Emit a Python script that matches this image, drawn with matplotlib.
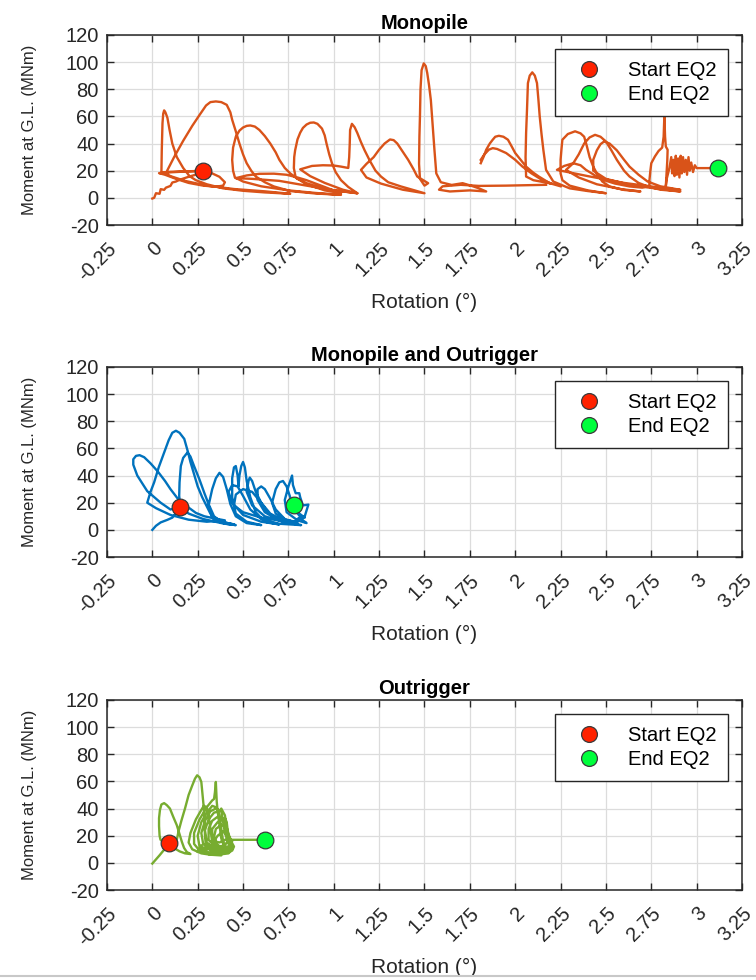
import matplotlib
matplotlib.use('Agg')
import matplotlib.pyplot as plt
from matplotlib.lines import Line2D
import numpy as np

GAP = (np.nan, np.nan)

# rotation (deg), moment at ground level (MNm)
mono_path = [
    (0.00, -0.5), (0.01, 0), (0.02, 3.4), (0.03, 3.2), (0.04, 3), (0.046, 6.4), (0.055, 6.2), (0.065, 5.9),
    (0.075, 7.5), (0.085, 8), (0.10, 8.8), (0.11, 11.3), (0.13, 12), (0.15, 13.3), (0.20, 15.5),
    (0.25, 17.5), (0.30, 19.5), (0.33, 18), (0.37, 15.5), (0.40, 11.5), (0.39, 9), (0.35, 8.2),
    (0.28, 9), (0.20, 11), (0.13, 14), (0.07, 17), (0.037, 18.2), (0.10, 18.8), (0.20, 19.5),
    (0.27, 19.8), (0.20, 19.6), (0.10, 19.2), (0.05, 18.5),
    (0.052, 35), (0.056, 55), (0.06, 62), (0.065, 64.4), (0.072, 63), (0.083, 59), (0.095, 50),
    (0.11, 40), (0.135, 30), (0.17, 22), (0.205, 16), (0.24, 13), (0.30, 10), (0.39, 7), (0.50, 5.2),
    (0.62, 4), (0.76, 3),
    (0.62, 4.8), (0.45, 6.5), (0.30, 9), (0.18, 12.5), (0.10, 16), (0.074, 18),
    (0.12, 30), (0.17, 42), (0.22, 53), (0.26, 61), (0.296, 68), (0.32, 70.5), (0.35, 71), (0.38, 70.5),
    (0.41, 68.5), (0.43, 63), (0.44, 57.5), (0.46, 49), (0.48, 40), (0.50, 32), (0.52, 25.5), (0.545, 20),
    (0.57, 15.7), (0.62, 11.5), (0.67, 8.4), (0.76, 5), (0.90, 3.2), (1.04, 2.2),
    (0.90, 3.6), (0.75, 5.5), (0.60, 8.5), (0.50, 12), (0.455, 15),
    (0.445, 20), (0.44, 28), (0.445, 37), (0.46, 45), (0.48, 49.5), (0.50, 51.8), (0.52, 53), (0.54, 53.3),
    (0.565, 52.5), (0.59, 50), (0.62, 45.5), (0.65, 40), (0.68, 33.5), (0.70, 28), (0.73, 22), (0.76, 18),
    (0.80, 14), (0.85, 10.8), (0.95, 6.5), (1.13, 3.4),
    (1.00, 5.5), (0.85, 9), (0.70, 12.5), (0.55, 14), (0.46, 14.5), (0.52, 16.5), (0.59, 17.7),
    (0.67, 17.8), (0.74, 17), (0.80, 15), (0.85, 13), (0.95, 8), (1.04, 3.4),
    (0.95, 5.5), (0.85, 10), (0.79, 15), (0.78, 21.9),
    (0.782, 30), (0.787, 35), (0.80, 43), (0.815, 48), (0.83, 51.5), (0.85, 54), (0.87, 55.3), (0.89, 55.5),
    (0.91, 54.5), (0.935, 51), (0.95, 46), (0.96, 40), (0.975, 32), (0.99, 25.5), (1.01, 19), (1.04, 13),
    (1.08, 8), (1.13, 3.4),
    (1.05, 6), (0.95, 11), (0.87, 16), (0.815, 21), (0.88, 23.5), (0.94, 24), (1.00, 23.8), (1.04, 23),
    (1.08, 22),
    (1.085, 30), (1.088, 40), (1.09, 50), (1.10, 54.5), (1.115, 52), (1.13, 47.7), (1.15, 41), (1.17, 35),
    (1.20, 27), (1.23, 20), (1.26, 15.7), (1.30, 11.5), (1.37, 8.4), (1.50, 3.4),
    (1.38, 6), (1.26, 10.5), (1.18, 15), (1.15, 20.6),
    (1.18, 25), (1.22, 30), (1.25, 35.5), (1.28, 40), (1.31, 43), (1.33, 42.5), (1.35, 40), (1.38, 34),
    (1.41, 28), (1.44, 21), (1.46, 15.7), (1.52, 10.8),
    (1.50, 9), (1.475, 14), (1.47, 25), (1.472, 45), (1.475, 60), (1.478, 80), (1.484, 94), (1.496, 99),
    (1.507, 97), (1.515, 92), (1.525, 83), (1.535, 72), (1.545, 53), (1.555, 35), (1.565, 18), (1.59, 11.5),
    (1.65, 9.5), (1.71, 10.8), (1.76, 8.8), (1.80, 7), (1.84, 4.7),
    (1.75, 5.5), (1.64, 4.7), (1.58, 6), (1.60, 8.5), (1.70, 9.6), (1.80, 8.8), (1.95, 9), (2.10, 9.4),
    (2.17, 9.6),
    GAP,
    (1.81, 25.5), (1.825, 30), (1.84, 35.4), (1.86, 40), (1.876, 42.8), (1.89, 45), (1.91, 45.7),
    (1.935, 45), (1.96, 42.8), (1.98, 38), (2.00, 33), (2.03, 28), (2.06, 23), (2.10, 18.5), (2.13, 15.7),
    (2.19, 10.8), (2.25, 8.5),
    GAP,
    (1.81, 28), (1.83, 32), (1.855, 35.5), (1.876, 36.6), (1.90, 36), (1.95, 33), (2.00, 28), (2.04, 23),
    (2.09, 18), (2.15, 13), (2.20, 10.5),
    (2.10, 13), (2.06, 15.7), (2.057, 30), (2.06, 47.7), (2.065, 65), (2.07, 84.5), (2.08, 90), (2.094, 92.4),
    (2.108, 90), (2.12, 84.5), (2.128, 72), (2.135, 60), (2.145, 47), (2.155, 35.4), (2.17, 20.6),
    (2.21, 12), (2.30, 7), (2.40, 5), (2.50, 3.4),
    (2.40, 5.5), (2.30, 9), (2.26, 13), (2.25, 18),
    (2.25, 28), (2.255, 36), (2.26, 42.8), (2.29, 47), (2.33, 49), (2.36, 47.5), (2.38, 45), (2.395, 38),
    (2.41, 30), (2.43, 23), (2.45, 18), (2.48, 12), (2.52, 8.4), (2.60, 5.8), (2.69, 4.7),
    (2.58, 6.5), (2.45, 10), (2.35, 15), (2.28, 20.6),
    (2.30, 23), (2.32, 25.5), (2.35, 32), (2.38, 40), (2.41, 44.5), (2.44, 46.4), (2.47, 45), (2.50, 41.5),
    (2.53, 35), (2.56, 28), (2.60, 20), (2.63, 15.7), (2.68, 11), (2.73, 8.4), (2.80, 6), (2.91, 4.7),
    (2.80, 6.5), (2.65, 9), (2.50, 14), (2.43, 20), (2.43, 28),
    (2.45, 35), (2.47, 39.5), (2.49, 41.5), (2.52, 40), (2.56, 35), (2.60, 28), (2.63, 23), (2.68, 17),
    (2.73, 12), (2.80, 8.5), (2.91, 5.9),
    (2.80, 7.5), (2.60, 11), (2.40, 16), (2.23, 20.6),
    (2.27, 23.5), (2.32, 25.5), (2.36, 24), (2.39, 20.6), (2.44, 16.5), (2.49, 13), (2.55, 10.5),
    (2.63, 8.4), (2.70, 7.5), (2.74, 9), (2.74, 13.3),
    (2.745, 20), (2.75, 25.5), (2.77, 30.5), (2.79, 34.5), (2.81, 37), (2.818, 45), (2.822, 60),
    (2.826, 45), (2.83, 37.8), (2.84, 35.4), (2.838, 27), (2.833, 15.7), (2.83, 8.4), (2.835, 14),
    (2.85, 22), (2.86, 30), (2.865, 18), (2.872, 28), (2.878, 16), (2.885, 31), (2.891, 17), (2.898, 29),
    (2.905, 15), (2.912, 31), (2.918, 18), (2.925, 30), (2.932, 19), (2.94, 28), (2.947, 17), (2.955, 30),
    (2.962, 20), (2.97, 26), (2.98, 19), (2.99, 24), (3.00, 21.9), (3.06, 21.9), (3.12, 21.9),
]

mp_path = [
    (0.00, 0), (0.01, 1.5), (0.02, 3), (0.035, 4.5), (0.046, 5.5), (0.065, 6.5), (0.083, 7.4), (0.11, 9),
    (0.13, 12), (0.15, 16.9),
    (0.10, 15), (0.046, 20), (-0.028, 28.5), (-0.083, 40), (-0.105, 48), (-0.105, 52), (-0.09, 54.5),
    (-0.07, 55), (-0.045, 53.5), (-0.01, 49), (0.03, 43), (0.07, 36), (0.10, 30), (0.14, 23), (0.194, 17),
    (0.24, 12.5), (0.287, 10), (0.34, 8.5), (0.40, 7),
    (0.30, 6), (0.20, 7.5), (0.10, 11), (0.02, 16), (-0.028, 20), (-0.01, 28), (0.01, 35), (0.035, 46),
    (0.065, 57), (0.09, 66), (0.11, 71.5), (0.13, 73), (0.15, 71.5), (0.176, 67), (0.195, 58), (0.21, 50),
    (0.23, 41), (0.25, 32), (0.275, 24), (0.30, 17.4), (0.32, 12), (0.34, 7.4), (0.40, 4.5), (0.46, 3.5),
    (0.38, 5), (0.28, 8), (0.20, 12), (0.155, 17), (0.148, 25), (0.15, 35), (0.157, 47), (0.17, 53),
    (0.194, 57), (0.21, 54), (0.23, 47), (0.26, 37), (0.287, 27), (0.31, 19), (0.34, 10), (0.38, 6), (0.45, 4),
    (0.38, 6), (0.33, 10), (0.31, 18), (0.33, 30), (0.35, 38), (0.37, 42), (0.39, 39), (0.41, 30),
    (0.43, 19), (0.46, 10), (0.52, 5), (0.60, 3.5),
    (0.52, 6), (0.46, 12), (0.44, 24), (0.44, 38), (0.45, 46), (0.46, 47), (0.47, 40), (0.475, 32),
    (0.48, 40), (0.49, 47), (0.50, 50), (0.51, 46), (0.52, 36), (0.54, 24), (0.57, 13), (0.62, 6), (0.70, 4),
    (0.60, 6), (0.50, 11), (0.44, 20), (0.42, 28), (0.44, 33), (0.47, 32), (0.50, 25), (0.54, 15),
    (0.60, 8), (0.70, 4.5), (0.82, 3.5),
    (0.72, 6), (0.62, 10), (0.55, 18), (0.52, 28), (0.53, 36), (0.537, 38.5), (0.55, 36), (0.57, 28),
    (0.60, 20), (0.64, 12), (0.70, 7), (0.78, 4.5),
    (0.70, 7), (0.62, 13), (0.58, 22), (0.58, 30), (0.60, 32), (0.62, 30), (0.65, 23), (0.68, 15),
    (0.73, 8), (0.80, 5),
    (0.70, 7), (0.60, 9), (0.50, 13), (0.45, 18), (0.46, 26), (0.50, 30), (0.55, 28), (0.60, 20),
    (0.65, 12), (0.72, 7), (0.80, 6),
    (0.74, 7), (0.68, 12), (0.66, 20), (0.68, 30), (0.70, 35), (0.72, 36), (0.74, 32), (0.76, 24),
    (0.79, 14), (0.83, 7), (0.85, 5),
    (0.80, 7), (0.74, 13), (0.73, 22), (0.75, 32), (0.77, 40), (0.775, 33), (0.79, 27), (0.81, 27),
    (0.815, 24), (0.83, 18), (0.86, 18.6), (0.84, 10), (0.80, 8), (0.84, 9), (0.80, 13), (0.78, 18),
]

out_path = [
    (0.00, -0.5), (0.02, 2.5), (0.04, 5.6), (0.055, 8), (0.07, 10.5), (0.088, 14.5),
    (0.07, 15), (0.045, 17), (0.04, 20), (0.037, 27), (0.037, 33), (0.042, 39), (0.05, 43), (0.065, 44),
    (0.08, 42.5), (0.097, 40), (0.115, 34), (0.135, 27.7), (0.15, 21), (0.163, 15.4), (0.175, 11),
    (0.19, 8), (0.21, 6.5),
    (0.18, 7), (0.15, 8.5), (0.125, 10.5),
    (0.135, 17), (0.144, 23), (0.16, 31), (0.18, 40), (0.20, 50), (0.22, 57), (0.235, 62), (0.247, 64.5),
    (0.26, 63), (0.27, 59.6), (0.277, 50), (0.284, 40), (0.288, 30), (0.29, 20), (0.295, 13), (0.30, 8),
    (0.32, 6),
    (0.27, 7), (0.22, 10), (0.20, 15), (0.21, 22), (0.24, 32), (0.27, 39), (0.284, 42), (0.30, 41),
    (0.31, 35), (0.32, 25), (0.33, 15), (0.35, 8), (0.38, 5.5),
    (0.32, 6), (0.26, 9), (0.23, 14), (0.23, 22), (0.26, 32), (0.30, 41), (0.33, 46), (0.34, 47),
    (0.345, 52), (0.35, 59.6), (0.355, 45), (0.36, 38), (0.37, 28), (0.38, 18), (0.40, 10), (0.42, 7),
    (0.36, 6), (0.30, 8), (0.26, 12), (0.25, 20), (0.27, 30), (0.30, 37), (0.33, 42), (0.35, 41),
    (0.37, 35), (0.38, 25), (0.39, 16), (0.41, 10), (0.43, 8),
    (0.38, 7), (0.32, 9), (0.28, 14), (0.27, 22), (0.29, 31), (0.32, 38), (0.35, 40), (0.38, 38),
    (0.39, 30), (0.40, 22), (0.42, 14), (0.44, 10),
    (0.40, 8), (0.34, 10), (0.30, 15), (0.29, 24), (0.31, 32), (0.34, 37), (0.37, 38), (0.38, 40),
    (0.40, 35), (0.41, 26), (0.43, 17), (0.45, 12), (0.44, 9),
    (0.40, 9), (0.35, 11), (0.31, 17), (0.31, 25), (0.33, 31), (0.36, 34), (0.385, 32.6), (0.40, 29),
    (0.41, 22), (0.43, 15), (0.44, 11),
    (0.41, 10), (0.36, 12), (0.33, 18), (0.33, 25), (0.36, 30), (0.385, 32), (0.40, 33), (0.41, 30),
    (0.415, 24), (0.42, 18), (0.43, 13),
    (0.40, 11), (0.36, 13), (0.34, 19), (0.35, 25), (0.38, 28), (0.405, 27), (0.41, 22), (0.42, 17),
    (0.40, 13), (0.37, 12), (0.34, 14),
    (0.25, 8), (0.27, 13), (0.29, 9), (0.31, 14), (0.33, 8), (0.35, 13), (0.37, 7), (0.39, 12), (0.41, 8),
    (0.43, 12), (0.44, 16), (0.42, 20), (0.39, 23), (0.36, 20), (0.34, 16), (0.37, 15), (0.40, 17),
    (0.43, 17), (0.47, 17), (0.52, 17), (0.58, 17), (0.617, 17),
]

titles = ['Monopile', 'Monopile and Outrigger', 'Outrigger']
paths = [mono_path, mp_path, out_path]
colors = ['#D95319', '#0072BD', '#77AC30']
start_pts = [(0.28, 20), (0.15, 17), (0.09, 14.5)]
end_pts = [(3.12, 22), (0.78, 18), (0.62, 17)]

x_ticks = np.arange(-0.25, 3.26, 0.25)
x_labels = ['-0.25', '0', '0.25', '0.5', '0.75', '1', '1.25', '1.5', '1.75',
            '2', '2.25', '2.5', '2.75', '3', '3.25']
y_ticks = np.arange(-20, 121, 20)

plt.rcParams['font.family'] = ['Liberation Sans', 'DejaVu Sans']
plt.rcParams['axes.unicode_minus'] = False
fig = plt.figure(figsize=(7.56, 9.8), dpi=100)

bottoms = [0.7704, 0.4316, 0.0918]
for i in range(3):
    ax = fig.add_axes([0.1415, bottoms[i], 0.840, 0.194])
    xs = [p[0] for p in paths[i]]
    ys = [p[1] for p in paths[i]]
    ax.plot(xs, ys, color=colors[i], lw=1.7, solid_joinstyle='round', zorder=2)
    ax.plot(start_pts[i][0], start_pts[i][1], 'o', ms=12, mfc='#FF2200', mec='#3a3a3a', mew=0.9,
            label='Start EQ2', zorder=3)
    ax.plot(end_pts[i][0], end_pts[i][1], 'o', ms=12, mfc='#00FF3C', mec='#3a3a3a', mew=0.9,
            label='End EQ2', zorder=3)

    ax.set_xlim(-0.25, 3.25)
    ax.set_ylim(-20, 120)
    ax.set_xticks(x_ticks)
    ax.set_xticklabels(x_labels, rotation=45, ha='right', rotation_mode='anchor')
    ax.set_yticks(y_ticks)
    ax.tick_params(direction='in', length=5, width=1, top=True, right=True,
                   labelsize=14.5, colors='#262626', pad=6)
    ax.tick_params(axis='x', pad=10)
    ax.grid(True, color='#dcdcdc', lw=0.9)
    ax.set_axisbelow(True)
    for s in ax.spines.values():
        s.set_color('#262626')
        s.set_linewidth(1.1)

    ax.set_title(titles[i], fontsize=14.5, fontweight='bold', pad=4)
    ax.set_xlabel('Rotation (°)', fontsize=15, color='#262626', labelpad=6)
    ax.set_ylabel('Moment at G.L. (MNm)', fontsize=12, color='#262626', labelpad=20)

    leg = ax.legend(loc='upper right', fontsize=14.5, frameon=True, fancybox=False,
                    edgecolor='#262626', framealpha=1, handlelength=2.3, handletextpad=0.76,
                    labelspacing=0.28, borderpad=0.56, borderaxespad=0.72, markerscale=0.95)
    leg.get_frame().set_linewidth(1.0)

# thin grey rule along the bottom edge, as in the screenshot
fig.add_artist(Line2D([0, 1], [0.004, 0.004], transform=fig.transFigure, color='#c8c8c8', lw=1.5))

fig.savefig('out.png', dpi=100)
